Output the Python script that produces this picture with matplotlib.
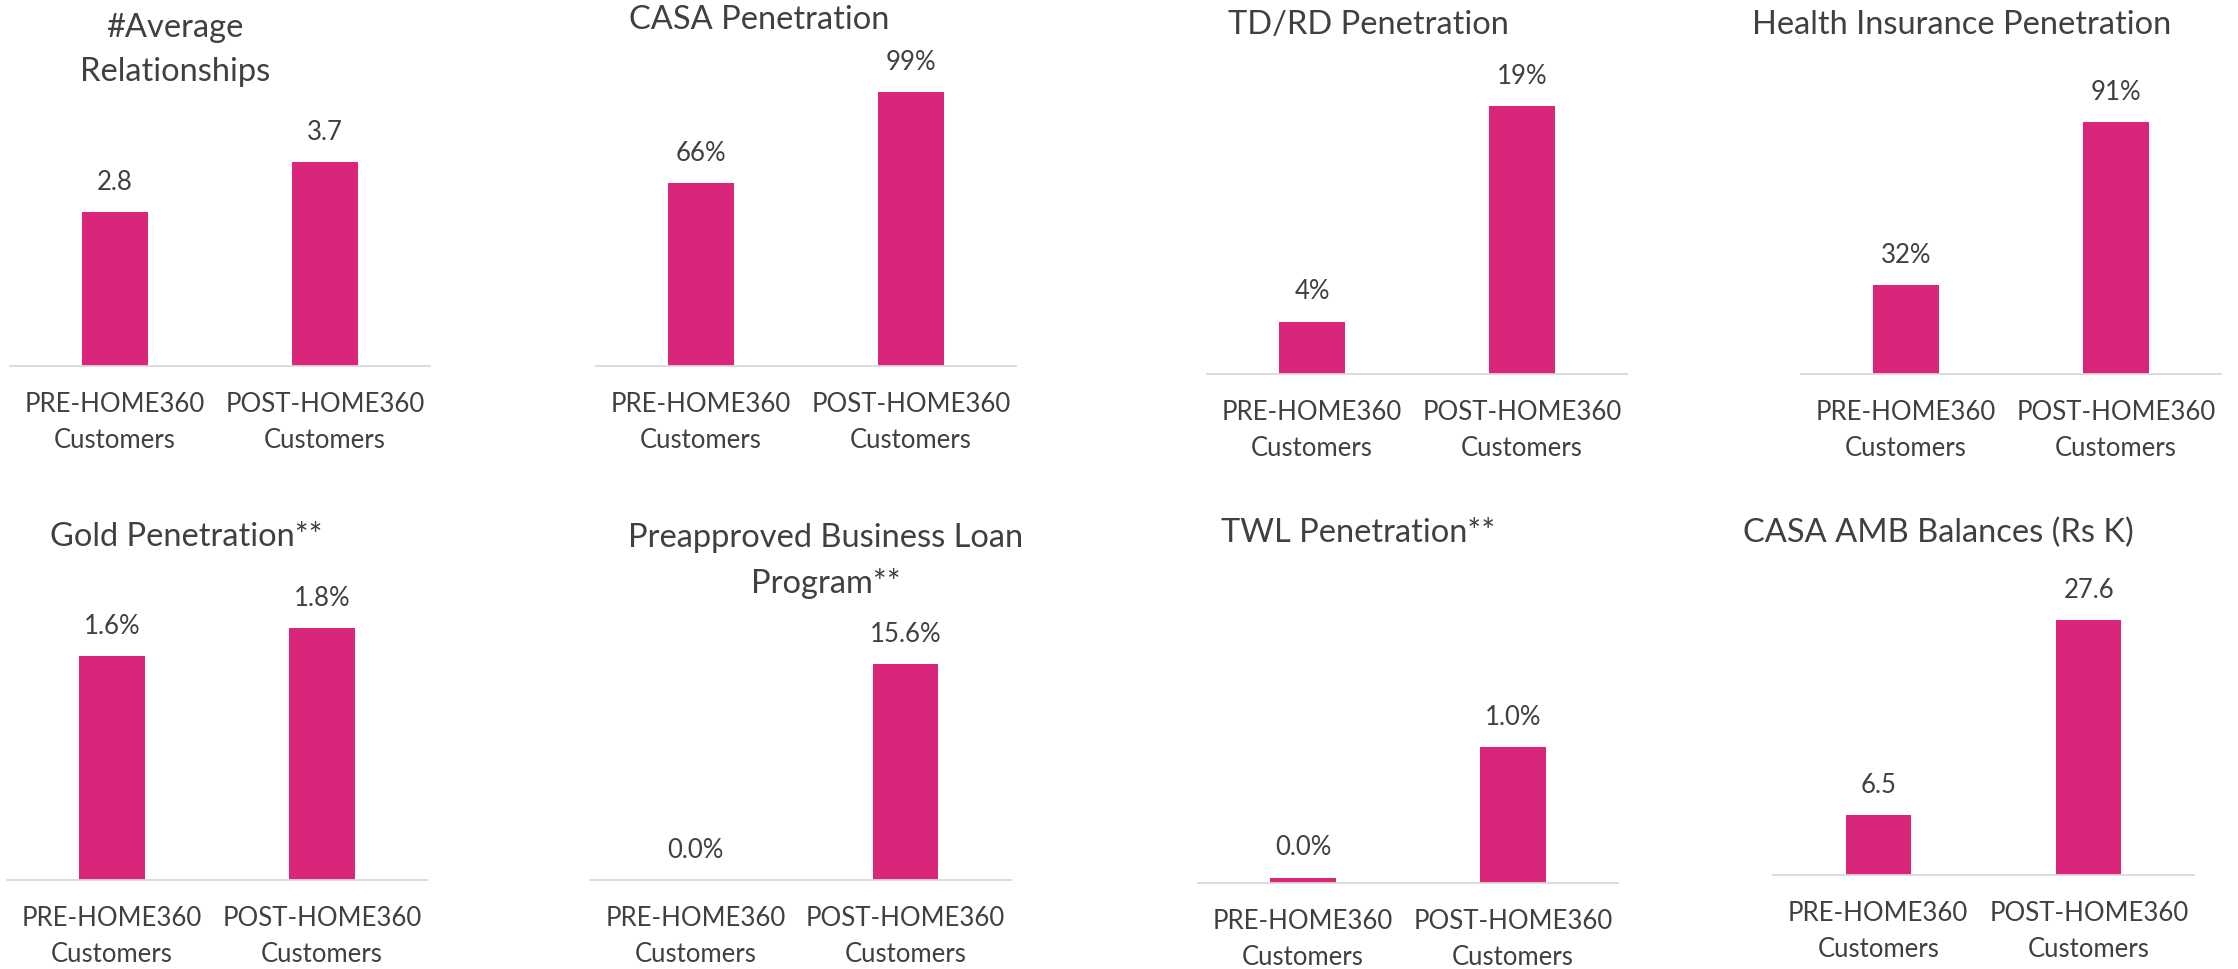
import matplotlib
matplotlib.use("Agg")
import matplotlib.pyplot as plt

plt.rcParams["font.family"] = ["Lato", "DejaVu Sans"]

# ---------------- data ----------------
titles = [
    "#Average\nRelationships",
    "CASA Penetration",
    "TD/RD Penetration",
    "Health Insurance Penetration",
    "Gold Penetration**",
    "Preapproved Business Loan\nProgram**",
    "TWL Penetration**",
    "CASA AMB Balances (Rs K)",
]
categories = ["PRE-HOME360\nCustomers", "POST-HOME360\nCustomers"]
pre_values = [2.8, 0.66, 0.037, 0.32, 0.016, 0.0, 0.0004, 6.5]
post_values = [3.7, 0.99, 0.19, 0.91, 0.018, 0.156, 0.010, 27.6]
label_formats = ["{:.1f}", "{:.0%}", "{:.0%}", "{:.0%}", "{:.1%}", "{:.1%}", "{:.1%}", "{:.1f}"]
y_max = [4, 1.2, 0.2, 1.0, 0.02, 0.18, 0.012, 30]

# ---------------- layout (pixels) ----------------
W, H = 2238, 969
# left, right, baseline, top of plot area
panels = [
    (10, 430, 366, 146),
    (596, 1016, 366, 34),
    (1207, 1627, 374, 92),
    (1801, 2221, 374, 97),
    (7, 427, 880, 600),
    (590, 1011, 880, 631),
    (1198, 1618, 883, 720),
    (1773, 2194, 875, 598),
]
# title centre x, centre y
title_pos = [
    (175, 50), (759, 20), (1368, 25), (1962, 25),
    (186, 537), (826, 561), (1358, 533), (1938, 533),
]

BAR = "#D9267A"
TEXT = "#404040"

fig = plt.figure(figsize=(W / 100, H / 100), dpi=100)

for i in range(8):
    left, right, base, top = panels[i]
    ax = fig.add_axes([left / W, 1 - base / H, (right - left) / W, (base - top) / H])
    vals = [pre_values[i], post_values[i]]
    bars = ax.bar([0, 1], vals, width=0.31, color=BAR)
    ax.set_xlim(-0.5, 1.5)
    ax.set_ylim(0, y_max[i])
    for b, v in zip(bars, vals):
        ax.annotate(label_formats[i].format(v), (b.get_x() + b.get_width() / 2, v),
                    xytext=(0, 21.5), textcoords="offset points",
                    ha="center", va="center", fontsize=18.5, color=TEXT)
    ax.set_xticks([0, 1])
    ax.set_xticklabels(categories, fontsize=18.5, color=TEXT, linespacing=1.55)
    ax.tick_params(axis="x", length=0, pad=19)
    ax.set_yticks([])
    for s in ["top", "left", "right"]:
        ax.spines[s].set_visible(False)
    ax.spines["bottom"].set_color("#D9D9D9")
    ax.spines["bottom"].set_linewidth(1.3)

    tx, ty = title_pos[i]
    fig.text(tx / W, 1 - ty / H, titles[i], ha="center", va="center",
             fontsize=23.5, color=TEXT, linespacing=1.6)

fig.savefig("out.png", dpi=100, facecolor="white")
